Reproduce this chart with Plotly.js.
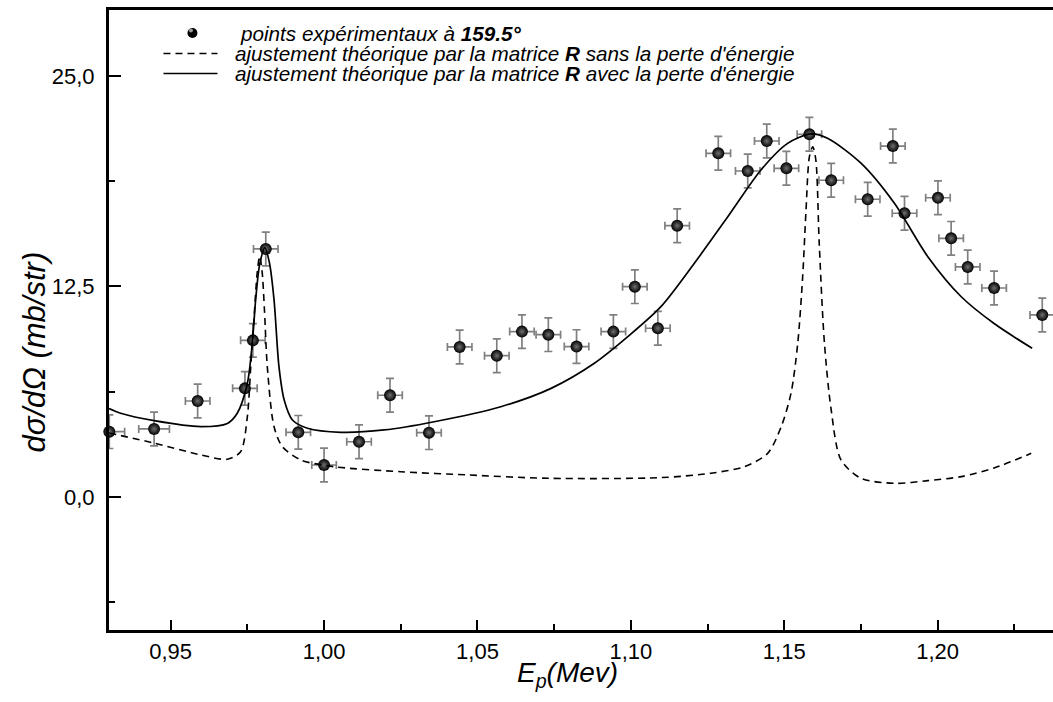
<!DOCTYPE html>
<html>
<head>
<meta charset="utf-8">
<script src="https://cdn.plot.ly/plotly-3.0.1.min.js"></script>
<style>html,body{margin:0;padding:0;background:#fff;}#chart{width:1053px;height:702px;}</style>
</head>
<body>
<div id="chart"></div>
<script>
// Experimental points at 159.5°
const ep = [0.9300, 0.9446, 0.9588, 0.9742, 0.9768, 0.9810, 0.9916, 1.0000, 1.0114, 1.0215, 1.0342, 1.0442, 1.0563, 1.0645, 1.0731, 1.0823, 1.0943, 1.1013, 1.1088, 1.1151, 1.1285, 1.1381, 1.1443, 1.1507, 1.1582, 1.1653, 1.1772, 1.1854, 1.1892, 1.2001, 1.2044, 1.2098, 1.2184, 1.2341];
const sigma = [3.88, 4.04, 5.70, 6.45, 9.30, 14.73, 3.84, 1.90, 3.28, 6.04, 3.82, 8.91, 8.39, 9.82, 9.64, 8.93, 9.82, 12.49, 10.02, 16.11, 20.41, 19.36, 21.14, 19.52, 21.54, 18.81, 17.68, 20.84, 16.85, 17.77, 15.36, 13.66, 12.41, 10.81];
const errEp = [0.005, 0.005, 0.004, 0.004, 0.004, 0.004, 0.004, 0.004, 0.004, 0.004, 0.004, 0.004, 0.004, 0.004, 0.004, 0.004, 0.004, 0.004, 0.004, 0.004, 0.004, 0.004, 0.004, 0.004, 0.004, 0.004, 0.004, 0.004, 0.004, 0.004, 0.004, 0.004, 0.004, 0.004];
const errSigma = [1.0, 1.0, 1.0, 1.0, 1.0, 1.0, 1.0, 1.0, 1.0, 1.0, 1.0, 1.0, 1.0, 1.0, 1.0, 1.0, 1.0, 1.0, 1.0, 1.0, 1.0, 1.0, 1.0, 1.0, 1.0, 1.0, 1.0, 1.0, 1.0, 1.0, 1.0, 1.0, 1.0, 1.0];

// R-matrix fit without energy loss (dashed)
const fitSansX = [0.9299, 0.9446, 0.9598, 0.9685, 0.9728, 0.9750, 0.9761, 0.9772, 0.9782, 0.9790, 0.9798, 0.9806, 0.9815, 0.9837, 0.9864, 0.9924, 1.0032, 1.0250, 1.0468, 1.0729, 1.1098, 1.1261, 1.1370, 1.1446, 1.1490, 1.1522, 1.1544, 1.1560, 1.1571, 1.1582, 1.1593, 1.1603, 1.1614, 1.1631, 1.1653, 1.1685, 1.1750, 1.1859, 1.1968, 1.2077, 1.2184, 1.2305];
const fitSansY = [3.8, 3.2, 2.5, 2.24, 2.69, 4.77, 7.74, 10.7, 13.3, 14.3, 13.4, 11.0, 7.74, 4.17, 2.99, 2.2, 1.8, 1.50, 1.31, 1.11, 1.15, 1.41, 1.80, 2.59, 4.17, 6.16, 9.13, 13.08, 17.04, 20.21, 20.80, 20.01, 15.06, 9.13, 5.17, 2.2, 1.11, 0.81, 0.97, 1.21, 1.72, 2.59];

// R-matrix fit with energy loss (solid)
const fitAvecX = [0.9299, 0.9337, 0.9446, 0.9598, 0.9685, 0.9717, 0.9750, 0.9766, 0.9777, 0.9790, 0.9807, 0.9822, 0.9837, 0.9853, 0.9870, 0.9897, 0.9946, 1.0055, 1.0196, 1.0359, 1.0576, 1.0740, 1.0881, 1.0990, 1.1098, 1.1207, 1.1316, 1.1424, 1.1511, 1.1587, 1.1641, 1.1750, 1.1859, 1.1968, 1.2077, 1.2184, 1.2308];
const fitAvecY = [5.25, 4.97, 4.53, 4.18, 4.37, 4.97, 6.75, 9.13, 11.7, 13.8, 14.8, 13.9, 11.7, 7.74, 5.76, 4.57, 4.08, 3.84, 3.98, 4.47, 5.36, 6.45, 7.94, 9.52, 11.30, 13.88, 16.64, 19.42, 21.0, 21.56, 21.3, 19.82, 17.44, 14.27, 11.89, 10.3, 8.83];

const legendNames = [
  'points expérimentaux à <b>159.5°</b>',
  'ajustement théorique par la matrice <b>R</b> sans la perte d\'énergie',
  'ajustement théorique par la matrice <b>R</b> avec la perte d\'énergie'
];
const xTitle = '<i>E<sub>p</sub>(Mev)</i>';
const yTitle = '<i>dσ/dΩ (mb/str)</i>';

const FONT = 'Arial, "Liberation Sans", sans-serif';

// plot-area geometry (pixels) used to place the hand-drawn legend in paper units
const W = 1053, H = 702, ML = 108.5, MR = 0, MT = 10, MB = 72;
const PW = W - ML - MR, PH = H - MT - MB;
const px = v => (v - ML) / PW;
const py = v => (H - MB - v) / PH;

const traces = [
  {
    x: ep, y: sigma, type: 'scatter', mode: 'markers', name: legendNames[0],
    cliponaxis: false, showlegend: false,
    marker: {size: 12, color: '#000', gradient: {type: 'radial', color: '#707070'}, line: {width: 0}},
    error_x: {type: 'data', array: errEp, visible: true, color: '#808080', thickness: 1.7, width: 4},
    error_y: {type: 'data', array: errSigma, visible: true, color: '#808080', thickness: 1.7, width: 4}
  },
  {
    x: fitSansX, y: fitSansY, type: 'scatter', mode: 'lines', name: legendNames[1], showlegend: false,
    line: {color: '#000', width: 1.6, dash: '7px,5px', shape: 'spline', smoothing: 0.8}
  },
  {
    x: fitAvecX, y: fitAvecY, type: 'scatter', mode: 'lines', name: legendNames[2], showlegend: false,
    line: {color: '#000', width: 1.7, shape: 'spline', smoothing: 0.8}
  }
];

const legFont = {family: FONT, size: 20.7, style: 'italic', color: '#000'};
const rowsY = [33, 53.5, 73.5];

const annotations = [
  {xref: 'paper', yref: 'paper', x: px(238), y: py(rowsY[0]), xanchor: 'left', yanchor: 'middle', text: legendNames[0], showarrow: false, font: legFont},
  {xref: 'paper', yref: 'paper', x: px(233), y: py(rowsY[1]), xanchor: 'left', yanchor: 'middle', text: legendNames[1], showarrow: false, font: legFont},
  {xref: 'paper', yref: 'paper', x: px(233), y: py(rowsY[2]), xanchor: 'left', yanchor: 'middle', text: legendNames[2], showarrow: false, font: legFont},
  {xref: 'paper', yref: 'paper', x: px(567), y: py(674), xanchor: 'center', yanchor: 'middle', text: xTitle, showarrow: false, font: {family: FONT, size: 28, color: '#000'}},
  {xref: 'paper', yref: 'paper', x: px(33), y: py(352), xanchor: 'center', yanchor: 'middle', textangle: -90, text: yTitle, showarrow: false, font: {family: FONT, size: 31, color: '#000'}}
];

const shapes = [
  // legend key: sphere marker
  {type: 'circle', xref: 'paper', yref: 'paper', x0: px(187), x1: px(197), y0: py(rowsY[0] + 5), y1: py(rowsY[0] - 5), fillcolor: '#000', line: {width: 0}},
  {type: 'circle', xref: 'paper', yref: 'paper', x0: px(188.5), x1: px(192.5), y0: py(rowsY[0] - 0.5), y1: py(rowsY[0] - 4.5), fillcolor: '#9a9a9a', line: {width: 0}},
  // legend key: dashed line
  {type: 'line', xref: 'paper', yref: 'paper', x0: px(163), x1: px(217), y0: py(rowsY[1]), y1: py(rowsY[1]), line: {color: '#000', width: 1.6, dash: '7px,5px'}},
  // legend key: solid line
  {type: 'line', xref: 'paper', yref: 'paper', x0: px(163), x1: px(217), y0: py(rowsY[2]), y1: py(rowsY[2]), line: {color: '#000', width: 1.7}}
];

const layout = {
  width: W, height: H,
  margin: {l: ML, r: MR, t: MT, b: MB},
  paper_bgcolor: '#fff', plot_bgcolor: '#fff',
  font: {family: FONT, color: '#000'},
  showlegend: false,
  annotations: annotations,
  shapes: shapes,
  xaxis: {
    range: [0.9299, 1.2376],
    dtick: 0.05, tick0: 0.95, tickformat: '.2f',
    ticks: 'inside', ticklen: 10, tickwidth: 2, tickcolor: '#000',
    minor: {dtick: 0.025, ticks: 'inside', ticklen: 6, tickwidth: 2, tickcolor: '#000'},
    showline: true, linewidth: 3, linecolor: '#000', mirror: true,
    showgrid: false, zeroline: false,
    tickfont: {family: FONT, size: 22, color: '#000'},
    ticklabelstandoff: 0
  },
  yaxis: {
    range: [-7.9, 28.92],
    dtick: 12.5, tick0: 0, tickformat: '.1f',
    ticks: 'inside', ticklen: 12, tickwidth: 2, tickcolor: '#000',
    minor: {dtick: 6.25, ticks: 'inside', ticklen: 6, tickwidth: 2, tickcolor: '#000'},
    showline: true, linewidth: 3, linecolor: '#000', mirror: false,
    showgrid: false, zeroline: false,
    tickfont: {family: FONT, size: 22, color: '#000'},
    ticklabelstandoff: 7
  },
  separators: ', '
};

Plotly.newPlot('chart', traces, layout, {displayModeBar: false, staticPlot: true});
</script>
</body>
</html>
